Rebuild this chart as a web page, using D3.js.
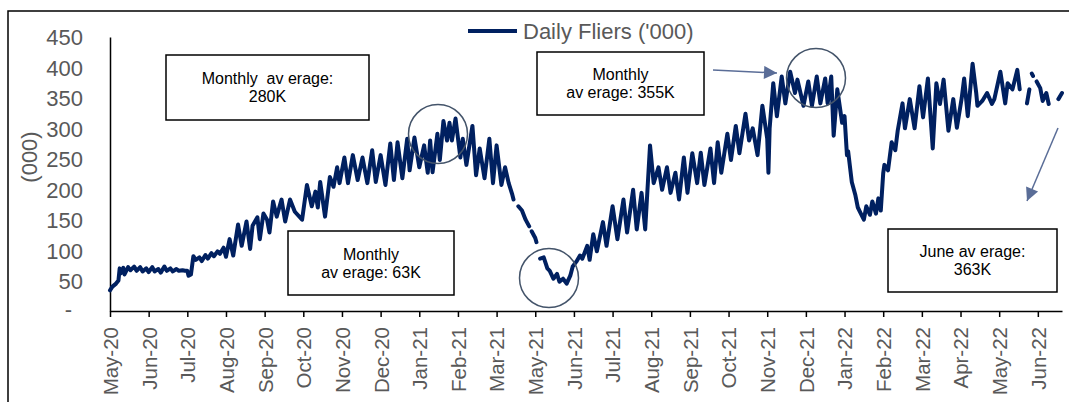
<!DOCTYPE html>
<html>
<head>
<meta charset="utf-8">
<script src="https://cdn.jsdelivr.net/npm/d3@7"></script>
<style>
  body { margin: 0; background: #fff; }
  text { font-family: "Liberation Sans", Arial, sans-serif; }
</style>
</head>
<body>
<div id="container"></div>
<script>
/* DATA */
// days since start of series (mid May 2020)
const day = [0,2,5,7,8,9,11,12,15,17,20,22,25,27,30,32,35,37,40,42,45,47,50,52,55,57,60,62,64,65,67,69,71,74,76,79,81,84,86,89,91,94,96,99,102,106,109,113,116,118,122,124,127,130,132,135,138,142,145,149,153,159,163,167,170,172,174,178,182,185,188,190,194,197,201,205,209,213,217,220,224,228,232,235,238,242,246,248,252,256,260,263,265,267,271,273,276,279,281,283,286,290,292,295,300,303,306,310,314,317,320,324,327,330,333,334,336,338,341,344,347,348,349,352,353,354,356,359,362,364,367,370,372,375,378,381,383,386,389,391,395,397,400,403,408,411,416,420,425,428,433,436,440,443,447,450,454,457,461,464,468,471,475,478,482,486,489,492,497,500,503,506,511,514,518,521,526,529,532,536,540,544,545,546,549,552,556,559,563,567,569,574,578,581,585,588,592,594,597,599,602,606,608,610,611,614,617,619,622,624,626,629,631,634,636,638,640,641,644,647,650,652,656,658,662,666,670,673,677,681,684,687,690,694,698,701,705,707,710,714,717,718,722,726,730,732,737,741,743,747,751,753,755,759,761,762,763,764,765,767,770,772,775,777,779,785,788];
// daily fliers ('000), null = no data
const fliers = [34,40,45,50,70,62,71,60,72,67,73,66,72,65,70,64,72,65,69,63,73,66,70,65,69,66,67,66,66,58,60,90,84,88,82,92,86,95,90,98,94,104,89,118,91,142,107,147,102,140,154,118,160,150,129,180,155,183,147,183,163,150,207,172,196,170,212,155,220,204,236,210,252,210,256,215,252,210,264,212,256,207,275,215,277,218,283,231,285,236,272,227,280,228,291,248,312,280,309,280,316,252,283,240,304,223,267,218,283,210,272,207,236,210,191,183,null,172,165,150,139,null,131,120,113,null,86,88,70,66,53,61,48,53,45,58,73,81,91,86,107,84,126,98,146,107,172,118,183,129,199,134,194,134,272,210,236,199,236,194,227,183,252,194,259,210,260,207,267,210,277,227,291,248,304,259,324,280,300,256,337,283,227,300,374,320,385,341,393,358,380,337,377,337,385,341,382,341,385,288,364,309,320,256,262,212,190,170,158,150,172,158,180,160,185,165,226,240,231,277,264,296,341,300,348,300,369,318,382,267,374,340,380,296,348,301,350,382,320,406,358,337,345,358,340,348,393,341,374,364,396,364,null,341,364,null,390,386,null,377,366,345,358,340,null,348,358];

const tickLabels = ["May-20","Jun-20","Jul-20","Aug-20","Sep-20","Oct-20","Nov-20","Dec-20","Jan-21","Feb-21","Mar-21","May-21","Jun-21","Jul-21","Aug-21","Sep-21","Oct-21","Nov-21","Dec-21","Jan-22","Feb-22","Mar-22","Apr-22","May-22","Jun-22"];
const tickStep = 32; // excel major unit in days
const yTicks = [0,50,100,150,200,250,300,350,400,450];

const notes = [
  {lines: ["Monthly  av erage:", "280K"], x0: 166, y0: 55, x1: 369, y1: 120},
  {lines: ["Monthly", "av erage: 63K"], x0: 288, y0: 231, x1: 454, y1: 295},
  {lines: ["Monthly", "av erage: 355K"], x0: 537, y0: 52, x1: 704, y1: 115},
  {lines: ["June av erage:", "363K"], x0: 888, y0: 229, x1: 1057, y1: 292}
];

/* LAYOUT */
const W = 1069, H = 402;
const navy = "#002060", grey = "#595959", pointer = "#5a6d97";

const svg = d3.select("#container").append("svg")
    .attr("width", W)
    .attr("height", H);

// outer frame (only top and left edges fall in the picture)
svg.append("rect")
    .attr("x", 8).attr("y", 11)
    .attr("width", W + 20).attr("height", H + 20)
    .attr("fill", "none").attr("stroke", "#000").attr("stroke-width", 1.5);

const data = day.map((d, i) => ({day: d, v: fliers[i]}));

const x = d3.scaleLinear()
    .domain([0, 788])
    .range([110, 1062]);

const y = d3.scaleLinear()
    .domain([0, 450])
    .range([311, 37]);

/* AXES */
const yAxis = svg.append("g")
    .attr("transform", "translate(110,0)")
    .call(d3.axisLeft(y).tickValues(yTicks).tickSize(0).tickPadding(27)
      .tickFormat(d => d === 0 ? "-" : d));
yAxis.select(".domain").attr("stroke", "#000").attr("stroke-width", 1.5);
yAxis.selectAll("text")
    .style("font-size", "22px")
    .style("fill", grey)
    .attr("dx", d => d === 0 ? -11 : 0)
    .attr("dy", d => d === 0 ? "0.25em" : "0.36em");

const xAxis = svg.append("g")
    .attr("transform", "translate(0," + y(0) + ")")
    .call(d3.axisBottom(x)
      .tickValues(tickLabels.map((t, i) => i * tickStep))
      .tickFormat((d, i) => tickLabels[i])
      .tickSize(6).tickSizeOuter(0));
xAxis.select(".domain").attr("stroke", "#000").attr("stroke-width", 1.5);
xAxis.selectAll(".tick line").attr("stroke", "#000").attr("stroke-width", 1.5);
xAxis.selectAll("text")
    .attr("transform", "rotate(-90)")
    .attr("x", -16)
    .attr("y", 0)
    .attr("dy", "0.36em")
    .style("text-anchor", "end")
    .style("font-size", "20.5px")
    .style("fill", grey);

svg.append("text")
    .attr("transform", "translate(29,157) rotate(-90)")
    .attr("text-anchor", "middle")
    .attr("dy", "0.36em")
    .style("font-size", "22px")
    .style("fill", grey)
    .text("(000)");

/* LINE */
const line = d3.line()
    .defined(d => d.v !== null)
    .x(d => x(d.day))
    .y(d => y(d.v));

svg.append("path")
    .datum(data)
    .attr("d", line)
    .attr("fill", "none")
    .attr("stroke", navy)
    .attr("stroke-width", 4)
    .attr("stroke-linejoin", "round")
    .attr("stroke-linecap", "round");

/* LEGEND */
svg.append("line")
    .attr("x1", 468).attr("x2", 517)
    .attr("y1", 31).attr("y2", 31)
    .attr("stroke", navy).attr("stroke-width", 4);
svg.append("text")
    .attr("x", 523).attr("y", 39)
    .style("font-size", "22px")
    .style("fill", grey)
    .text("Daily Fliers ('000)");

/* ANNOTATIONS */
const note = svg.selectAll("g.note")
    .data(notes)
    .join("g")
    .attr("class", "note");
note.append("rect")
    .attr("x", d => d.x0).attr("y", d => d.y0)
    .attr("width", d => d.x1 - d.x0).attr("height", d => d.y1 - d.y0)
    .attr("fill", "#fff").attr("stroke", "#000").attr("stroke-width", 1.5);
note.each(function(d) {
  const g = d3.select(this);
  const cy = (d.y0 + d.y1) / 2;
  d.lines.forEach((t, i) => {
    g.append("text")
      .attr("x", (d.x0 + d.x1) / 2)
      .attr("y", cy + (i - 0.5) * 18)
      .attr("dy", "0.36em")
      .attr("text-anchor", "middle")
      .style("font-size", "16px")
      .style("fill", "#000")
      .style("white-space", "pre")
      .text(t);
  });
});

// circles round the highlighted months
svg.selectAll("circle.ring")
    .data([[438, 134], [549, 278], [816, 78]])
    .join("circle")
    .attr("class", "ring")
    .attr("cx", d => d[0]).attr("cy", d => d[1])
    .attr("r", 29.5)
    .attr("fill", "none")
    .attr("stroke", "#44546a")
    .attr("stroke-width", 1.5);

svg.append("defs").append("marker")
    .attr("id", "head")
    .attr("viewBox", "0 0 10 10")
    .attr("refX", 10).attr("refY", 5)
    .attr("markerUnits", "userSpaceOnUse")
    .attr("markerWidth", 16).attr("markerHeight", 13)
    .attr("orient", "auto")
    .append("path")
    .attr("d", "M0,0 L10,5 L0,10 Z")
    .attr("fill", pointer);

svg.selectAll("line.arrow")
    .data([[713, 70, 777, 73], [1058, 128, 1027, 201]])
    .join("line")
    .attr("class", "arrow")
    .attr("x1", d => d[0]).attr("y1", d => d[1])
    .attr("x2", d => d[2]).attr("y2", d => d[3])
    .attr("stroke", pointer)
    .attr("stroke-width", 1.5)
    .attr("marker-end", "url(#head)");
</script>
</body>
</html>
